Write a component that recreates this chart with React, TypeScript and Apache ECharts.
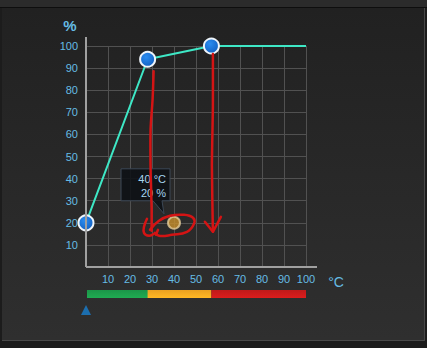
import React, { useEffect, useRef } from "react";
import * as echarts from "echarts";

// ---- data ----
const curveTemps = [0, 28, 57, 100];
const curveDuty = [20, 94, 100, 100];
const currentTemp = 40;
const currentDuty = 20;
const axisTicks = [0, 10, 20, 30, 40, 50, 60, 70, 80, 90, 100];
const zoneColors = ["#1b9548", "#e9a020", "#c01a1a"];

const LABEL = "#66bce4";
const FONT = "'Liberation Sans', Arial, sans-serif";

export default function App() {
  const ref = useRef<HTMLDivElement>(null);

  useEffect(() => {
    document.body.style.margin = "0";
    const chart = echarts.init(ref.current!, null, { renderer: "svg" });

    const curveData = curveTemps.map((t, i) =>
      i === curveTemps.length - 1
        ? { value: [t, curveDuty[i]], symbol: "none" }
        : { value: [t, curveDuty[i]] }
    );

    chart.setOption({
      animation: false,
      backgroundColor: "transparent",
      grid: { left: 86, top: 46, width: 220, height: 221 },
      xAxis: {
        type: "value",
        min: axisTicks[0],
        max: axisTicks[axisTicks.length - 1],
        interval: 10,
        axisLine: { show: false },
        axisTick: { show: false },
        splitLine: { show: true, lineStyle: { color: "#515151", width: 1 } },
        axisLabel: {
          color: LABEL,
          fontSize: 11,
          fontFamily: FONT,
          margin: 6,
          formatter: (v: number) => (v === 0 ? "" : String(v)),
        },
      },
      yAxis: {
        type: "value",
        min: axisTicks[0],
        max: axisTicks[axisTicks.length - 1],
        interval: 10,
        axisLine: { show: false },
        axisTick: { show: false },
        splitLine: { show: true, lineStyle: { color: "#515151", width: 1 } },
        axisLabel: {
          color: LABEL,
          fontSize: 11,
          fontFamily: FONT,
          margin: 8,
          formatter: (v: number) => (v === 0 ? "" : String(v)),
        },
      },
      series: [
        {
          type: "line",
          data: curveData,
          symbol: "circle",
          symbolSize: 15,
          lineStyle: { color: "#3ee8c6", width: 2 },
          itemStyle: {
            color: new echarts.graphic.RadialGradient(0.4, 0.35, 0.7, [
              { offset: 0, color: "#2a8cf0" },
              { offset: 1, color: "#125fc0" },
            ]),
            borderColor: "#eef4fa",
            borderWidth: 2,
          },
          z: 3,
        },
        {
          type: "scatter",
          data: [[currentTemp, currentDuty]],
          symbolSize: 12,
          itemStyle: { color: "#c8902c", borderColor: "#e4cc98", borderWidth: 2 },
          z: 4,
        },
      ],
    });

    const px = (x: number, y: number) =>
      chart.convertToPixel({ gridIndex: 0 }, [x, y]) as number[];

    const o = px(0, 0);
    const e = px(100, 100);
    const p2 = px(curveTemps[1], curveDuty[1]);
    const p3 = px(curveTemps[2], curveDuty[2]);
    const pd = px(currentTemp, currentDuty);

    const g: any[] = [];
    // axis lines
    g.push({
      type: "line",
      shape: { x1: o[0], y1: e[1] - 9, x2: o[0], y2: o[1] },
      style: { stroke: "#a0a0a0", lineWidth: 2 },
      z: 5,
    });
    g.push({
      type: "line",
      shape: { x1: o[0], y1: o[1], x2: e[0] + 11, y2: o[1] },
      style: { stroke: "#a0a0a0", lineWidth: 2 },
      z: 5,
    });
    // axis unit texts
    g.push({
      type: "text",
      x: 70,
      y: 25,
      style: {
        text: "%",
        fill: LABEL,
        font: `bold 15px ${FONT}`,
        align: "center",
        verticalAlign: "middle",
      },
    });
    g.push({
      type: "text",
      x: 336,
      y: 282,
      style: {
        text: "°C",
        fill: LABEL,
        font: `14px ${FONT}`,
        align: "center",
        verticalAlign: "middle",
      },
    });
    // zone bar
    const bounds = [0, curveTemps[1], curveTemps[2], 100];
    for (let i = 0; i < 3; i++) {
      const a = px(bounds[i], 0)[0];
      const b = px(bounds[i + 1], 0)[0];
      g.push({
        type: "rect",
        shape: { x: a + (i === 0 ? 1 : 0), y: 290, width: b - a, height: 8 },
        style: {
          fill: new echarts.graphic.LinearGradient(0, 0, 0, 1, [
            { offset: 0, color: zoneColors[i] },
            { offset: 1, color: echarts.color.lift(zoneColors[i], -0.15) },
          ]),
        },
      });
    }
    // current temperature marker
    const tx = px(0, 0)[0];
    g.push({
      type: "polygon",
      shape: { points: [[tx, 305], [tx - 5, 315], [tx + 5, 315]] },
      style: { fill: "#1c6eae" },
    });
    // tooltip box
    const bx = pd[0] - 53;
    const by = pd[1] - 54;
    g.push({
      type: "polygon",
      shape: {
        points: [
          [bx, by],
          [bx + 49, by],
          [bx + 49, by + 32],
          [bx + 41, by + 32],
          [bx + 43, by + 45],
          [bx + 32, by + 32],
          [bx, by + 32],
        ],
      },
      style: { fill: "rgba(12,16,20,0.88)", stroke: "#3c4856", lineWidth: 1 },
      z: 6,
    });
    g.push({
      type: "text",
      x: bx + 45,
      y: by + 10,
      style: {
        text: `${currentTemp} °C`,
        fill: "#a6d6f0",
        font: `11px ${FONT}`,
        align: "right",
        verticalAlign: "middle",
      },
      z: 7,
    });
    g.push({
      type: "text",
      x: bx + 45,
      y: by + 24,
      style: {
        text: `${currentDuty} %`,
        fill: "#a6d6f0",
        font: `11px ${FONT}`,
        align: "right",
        verticalAlign: "middle",
      },
      z: 7,
    });
    // hand-drawn red annotations
    const red = { stroke: "#d41414", lineWidth: 2.5, fill: null, lineCap: "round", lineJoin: "round" };
    const ax = p2[0] + 6;
    g.push({
      type: "polyline",
      shape: {
        smooth: 0.3,
        points: [
          [ax, p2[1] + 12],
          [ax - 1, p2[1] + 40],
          [ax - 3, p2[1] + 70],
          [ax - 3, p2[1] + 110],
          [ax - 2, p2[1] + 150],
          [ax - 2, pd[1] + 8],
        ],
      },
      style: red,
      z: 10,
    });
    g.push({
      type: "polyline",
      shape: {
        smooth: 0.4,
        points: [
          [pd[0] - 27, pd[1] - 4],
          [pd[0] - 30, pd[1] + 4],
          [pd[0] - 30, pd[1] + 10],
          [pd[0] - 25, pd[1] + 13],
          [pd[0] - 20, pd[1] + 11],
        ],
      },
      style: red,
      z: 10,
    });
    g.push({
      type: "polyline",
      shape: {
        smooth: 0.45,
        points: [
          [pd[0] - 24, pd[1] + 7],
          [pd[0] - 15, pd[1] - 2],
          [pd[0] - 4, pd[1] - 7],
          [pd[0] + 10, pd[1] - 8],
          [pd[0] + 19, pd[1] - 5],
          [pd[0] + 20, pd[1] + 1],
          [pd[0] + 13, pd[1] + 9],
          [pd[0] - 2, pd[1] + 12],
          [pd[0] - 15, pd[1] + 13],
          [pd[0] - 19, pd[1] + 10],
        ],
      },
      style: red,
      z: 10,
    });
    g.push({
      type: "polyline",
      shape: { points: [[pd[0] - 18, pd[1] + 12], [pd[0] - 16, pd[1] + 7]] },
      style: red,
      z: 10,
    });
    const bx2 = p3[0] + 1.5;
    g.push({
      type: "polyline",
      shape: {
        smooth: 0.2,
        points: [
          [bx2, p3[1] + 8],
          [bx2, p3[1] + 60],
          [bx2 - 1, p3[1] + 120],
          [bx2, pd[1] + 9],
        ],
      },
      style: red,
      z: 10,
    });
    g.push({
      type: "polyline",
      shape: {
        points: [
          [bx2 - 8, pd[1] - 1],
          [bx2, pd[1] + 9],
          [bx2 + 8, pd[1] - 6],
        ],
      },
      style: red,
      z: 10,
    });

    chart.setOption({ graphic: g });

    return () => chart.dispose();
  }, []);

  return (
    <div
      style={{
        position: "absolute",
        left: 0,
        top: 0,
        width: 427,
        height: 348,
        background: "#1c1c1c",
        overflow: "hidden",
      }}
    >
      <div style={{ position: "absolute", left: 0, top: 0, width: 427, height: 7, background: "#2b2b2b" }} />
      <div style={{ position: "absolute", left: 0, top: 7, width: 427, height: 1, background: "#0e0e0e" }} />
      <div
        style={{
          position: "absolute",
          left: 2,
          top: 8,
          width: 422,
          height: 332,
          background: "linear-gradient(#212121, #2f2f2f)",
          borderRight: "1px solid #474747",
          borderBottom: "1px solid #4a4a4a",
        }}
      />
      <div ref={ref} style={{ position: "absolute", left: 0, top: 0, width: 427, height: 348 }} />
    </div>
  );
}
